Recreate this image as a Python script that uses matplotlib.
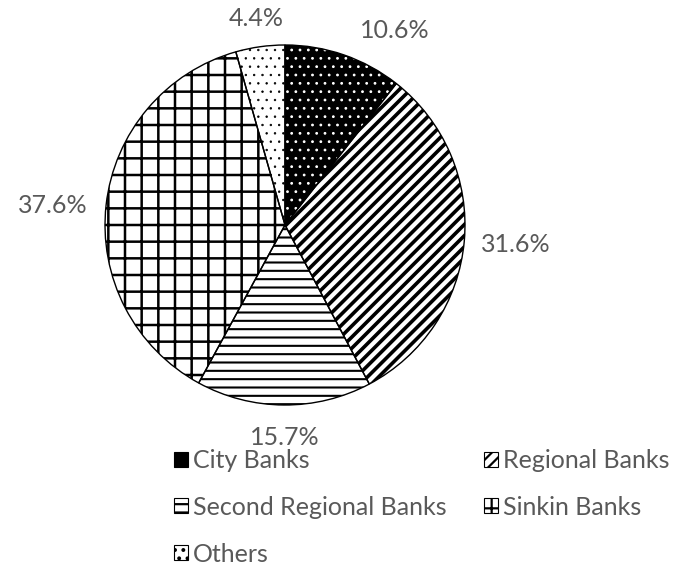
import matplotlib.pyplot as plt

plt.rcParams['font.family'] = ['Lato', 'DejaVu Sans']
plt.rcParams['hatch.linewidth'] = 1.6

categories = ["City Banks", "Regional Banks", "Second Regional Banks", "Sinkin Banks", "Others"]
shares = [10.6, 31.6, 15.7, 37.6, 4.4]
pct_labels = ["10.6%", "31.6%", "15.7%", "37.6%", "4.4%"]

hatches = ["..", "///", "--", "+", ".."]
hatch_lw = [0.8, 2.6, 1.5, 1.8, 0.5]
faces = ["black", "white", "white", "white", "white"]
hatch_cols = ["white", "black", "black", "black", "black"]
# where each percentage sits, in pie radius units
label_pos = [(0.61, 1.08), (1.28, -0.11), (0.0, -1.18), (-1.29, 0.11), (-0.16, 1.15)]

text_col = "#595959"
R = 180.0
cx, cy = 285, 225

fig = plt.figure(figsize=(6.8, 5.65), dpi=100)
ax = fig.add_axes([0, 0, 1, 1])

wedges, _ = ax.pie(shares, startangle=90, counterclock=False, radius=1)
for w, f, h, hc, hl in zip(wedges, faces, hatches, hatch_cols, hatch_lw):
    w.set_facecolor(f)
    w.set_edgecolor(hc)
    w.set_hatch(h)
    w.set_linewidth(0)
    if hasattr(w, "set_hatch_linewidth"):
        w.set_hatch_linewidth(hl)

# outlines on top
outl, _ = ax.pie(shares, startangle=90, counterclock=False, radius=1,
                 wedgeprops=dict(facecolor="none", edgecolor="black", linewidth=1))

for (x, y), t in zip(label_pos, pct_labels):
    ax.text(x, y, t, ha="center", va="center", fontsize=18, color=text_col)

ax.set_xlim(-cx / R, (680 - cx) / R)
ax.set_ylim(-(565 - cy) / R, cy / R)
ax.set_axis_off()

order = [0, 2, 4, 1, 3]
leg = fig.legend([wedges[i] for i in order], [categories[i] for i in order],
                 ncol=2, loc="upper left", bbox_to_anchor=(174 / 680, 1 - 449 / 565),
                 frameon=False, fontsize=18, labelcolor=text_col,
                 handlelength=0.55, handleheight=0.55, handletextpad=0.2,
                 labelspacing=0.95, columnspacing=1.5, borderpad=0, borderaxespad=0)
for h in leg.legend_handles:
    h.set_edgecolor("black")
    h.set_linewidth(0.8)

fig.savefig("out.png", dpi=100)
